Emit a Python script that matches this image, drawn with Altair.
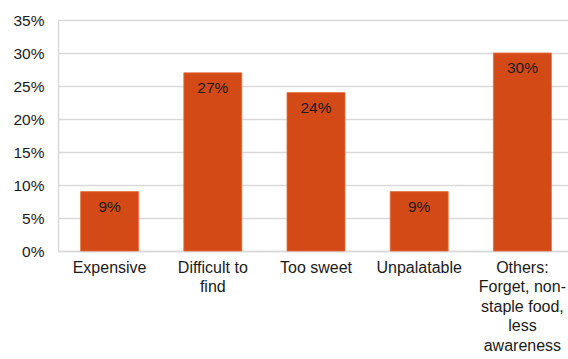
import altair as alt
import pandas as pd

categories = ["Expensive", "Difficult to\nfind", "Too sweet", "Unpalatable",
              "Others:\nForget, non-\nstaple food,\nless\nawareness"]
values = [9, 27, 24, 9, 30]
y_ticks = [0, 5, 10, 15, 20, 25, 30, 35]

df = pd.DataFrame({"cat": categories, "val": values,
                   "lbl": [f"{v}%" for v in values]})

FONT = "Liberation Sans"

x = alt.X("cat:N", sort=categories, title=None,
          scale=alt.Scale(paddingInner=0.438, paddingOuter=0.219, range=[0, 516]),
          axis=alt.Axis(labelAngle=0, labelExpr="split(datum.label, '\\n')",
                        labelFont=FONT, labelFontSize=16, labelColor="#1a1a1a",
                        labelLineHeight=19.5, labelPadding=8, labelBaseline="top",
                        labelLimit=200,
                        ticks=False, domainColor="#d9d9d9", domainWidth=1.5))
y = alt.Y("val:Q", title=None,
          scale=alt.Scale(domain=[0, 35], nice=False),
          axis=alt.Axis(values=y_ticks, labelExpr="datum.value + '%'",
                        labelFont=FONT, labelFontSize=15.5, labelColor="#1a1a1a",
                        labelPadding=14, ticks=False, domain=True,
                        domainColor="#d9d9d9", domainWidth=1.5,
                        grid=True, gridColor="#d9d9d9", gridWidth=1.5))

base = alt.Chart(df).encode(x=x, y=y)
bars = base.mark_bar(color="#D44A17", stroke="#E2703F", strokeWidth=0.8)
text = base.mark_text(font=FONT, fontSize=15.5, color="#1a1a1a",
                      baseline="middle", dy=15).encode(text="lbl:N")

chart = (bars + text).properties(
    width=510, height=231,
    autosize=alt.AutoSizeParams(type="none"),
    padding={"left": 58, "top": 20, "right": 0, "bottom": 108},
).configure_view(stroke=None).configure(background="white")

chart.save("out.html", embed_options={"renderer": "svg", "actions": False})
